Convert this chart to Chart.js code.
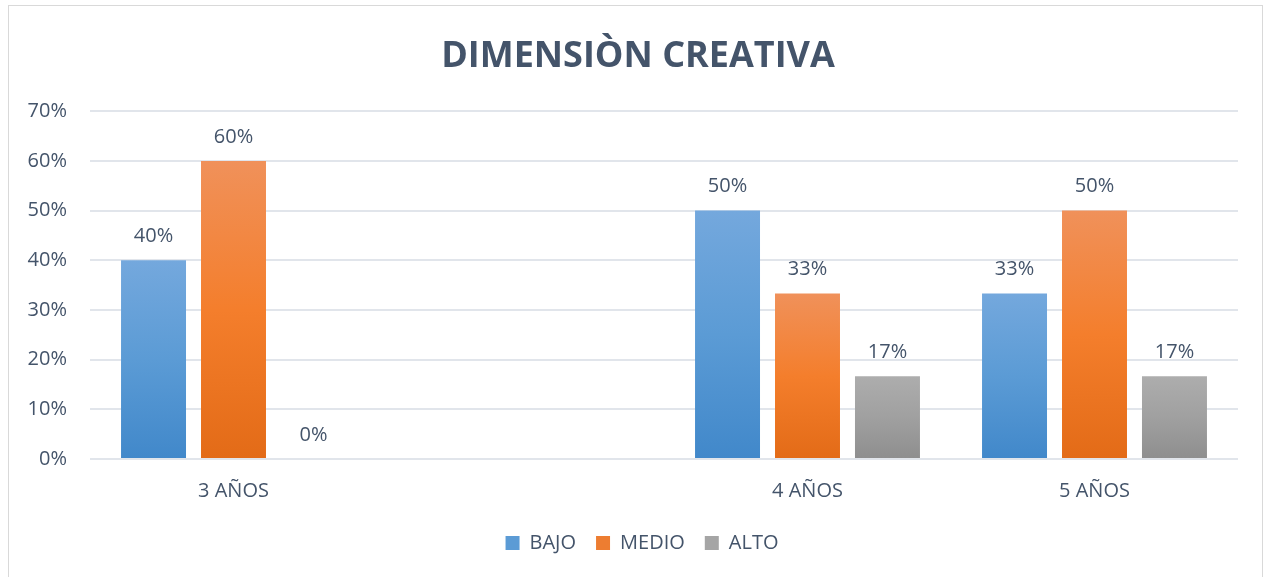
<!DOCTYPE html>
<html>
<head>
<meta charset="utf-8">
<script src="https://cdn.jsdelivr.net/npm/chart.js@4.4.1/dist/chart.umd.min.js"></script>
<style>
  html, body { margin: 0; padding: 0; background: #fff; overflow: hidden; }
  #frame { position: absolute; left: 8px; top: 5px; width: 1253px; height: 600px; border: 1px solid #D9D9D9; }
  #wrap { position: absolute; left: 0; top: 0; width: 1269px; height: 577px; }
</style>
</head>
<body>
<div id="frame"></div>
<div id="wrap"><canvas id="chart" width="1269" height="577"></canvas></div>
<script>
// datos del gráfico
const categories = ['3 AÑOS', '', '4 AÑOS', '5 AÑOS'];
const seriesNames = ['BAJO', 'MEDIO', 'ALTO'];
const bajo  = [0.40, null, 0.50, 0.3333];
const medio = [0.60, null, 0.3333, 0.50];
const alto  = [0.00, null, 0.1667, 0.1667];
const yTicks = [0, 0.1, 0.2, 0.3, 0.4, 0.5, 0.6, 0.7];

const TEXT = '#44546A';
const FONT = "'Open Sans', 'Liberation Sans', sans-serif";

// degradado por barra (arriba claro, abajo oscuro)
const stops = {
  BAJO:  ['#74A8DD', '#5B9BD5', '#4188CA'],
  MEDIO: ['#F0915A', '#F47E2C', '#E36B17'],
  ALTO:  ['#ADADAD', '#A0A0A0', '#8E8E8E']
};
const solid = { BAJO: '#5B9BD5', MEDIO: '#ED7D31', ALTO: '#A5A5A5' };

function barFill(name) {
  return (ctx) => {
    const chart = ctx.chart;
    const y = chart.scales.y;
    if (!y || ctx.type !== 'data' || ctx.parsed == null || ctx.parsed.y == null) return solid[name];
    const top = y.getPixelForValue(ctx.parsed.y);
    const bottom = y.getPixelForValue(0);
    if (bottom - top < 1) return solid[name];
    const g = chart.ctx.createLinearGradient(0, top, 0, bottom);
    g.addColorStop(0, stops[name][0]);
    g.addColorStop(0.5, stops[name][1]);
    g.addColorStop(1, stops[name][2]);
    return g;
  };
}

// etiquetas de datos sobre cada barra
const barLabels = {
  id: 'barLabels',
  afterDatasetsDraw(chart) {
    const c = chart.ctx;
    c.save();
    c.font = '20px ' + FONT;
    c.fillStyle = TEXT;
    c.textAlign = 'center';
    c.textBaseline = 'middle';
    chart.data.datasets.forEach((ds, i) => {
      chart.getDatasetMeta(i).data.forEach((bar, j) => {
        const v = ds.data[j];
        if (v == null) return;
        c.fillText(Math.round(v * 100) + '%', bar.x, bar.y - 24);
      });
    });
    c.restore();
  }
};

// centrar título y leyenda como en el original
const shiftBoxes = {
  id: 'shiftBoxes',
  beforeDraw(chart) {
    if (chart.titleBlock) { chart.titleBlock.left += 14; chart.titleBlock.right += 14; }
    if (chart.legend) { chart.legend.left += 18; chart.legend.right += 18; }
  }
};

const series = [bajo, medio, alto];
new Chart(document.getElementById('chart'), {
  type: 'bar',
  data: {
    labels: categories,
    datasets: seriesNames.map((n, i) => ({
      label: n,
      data: series[i],
      backgroundColor: barFill(n),
      borderWidth: 0,
      categoryPercentage: 0.836,
      barPercentage: 0.8125
    }))
  },
  options: {
    responsive: false,
    animation: false,
    layout: { padding: { left: 10, right: 31, top: 0, bottom: 14 } },
    plugins: {
      title: {
        display: true,
        text: 'DIMENSIÒN CREATIVA',
        color: TEXT,
        font: { family: FONT, size: 36, weight: 'bold' },
        padding: { top: 35, bottom: 33 }
      },
      legend: {
        position: 'bottom',
        labels: {
          color: TEXT,
          font: { family: FONT, size: 20 },
          boxWidth: 14,
          boxHeight: 14,
          padding: 20,
          generateLabels: (chart) => chart.data.datasets.map((ds, i) => ({
            text: ds.label,
            fillStyle: solid[ds.label],
            strokeStyle: solid[ds.label],
            lineWidth: 0,
            fontColor: TEXT,
            datasetIndex: i
          }))
        }
      },
      tooltip: { enabled: false }
    },
    scales: {
      x: {
        grid: { display: false, drawTicks: false },
        border: { display: false },
        ticks: { color: TEXT, font: { family: FONT, size: 20 }, padding: 20 },
        afterFit: (s) => { s.height = 54; }
      },
      y: {
        min: 0,
        max: 0.7,
        afterBuildTicks: (s) => { s.ticks = yTicks.map(v => ({ value: v })); },
        grid: { color: '#E1E5EB', lineWidth: 2, drawTicks: false },
        border: { display: false },
        ticks: {
          color: TEXT,
          font: { family: FONT, size: 20 },
          padding: 23,
          callback: (v) => Math.round(v * 100) + '%'
        },
        afterFit: (s) => { s.width = 80; }
      }
    }
  },
  plugins: [barLabels, shiftBoxes]
});
</script>
</body>
</html>
